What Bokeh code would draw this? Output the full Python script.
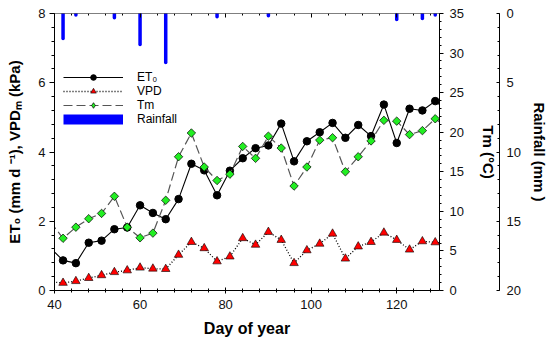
import numpy as np
from bokeh.plotting import figure
from bokeh.models import (LinearAxis, Range1d, SingleIntervalTicker, FixedTicker,
                          Legend, LegendItem)
from bokeh.embed import file_html
from bokeh.resources import INLINE

# ---- data ----
days = [39, 42, 45, 48, 51, 54, 57, 60, 63, 66, 69, 72, 75, 78, 81, 84,
        87, 90, 93, 96, 99, 102, 105, 108, 111, 114, 117, 120, 123, 126, 129, 132]
et0 = [1.23, 0.87, 0.79, 1.38, 1.44, 1.77, 1.82, 2.46, 2.24, 2.06, 2.64, 3.66,
       3.47, 2.75, 3.46, 3.82, 4.11, 4.19, 4.82, 3.73, 4.31, 4.57, 4.84, 4.41,
       4.78, 4.46, 5.37, 4.26, 5.25, 5.20, 5.47, 5.16]
vpd = [0.25, 0.22, 0.27, 0.36, 0.44, 0.53, 0.58, 0.66, 0.63, 0.62, 1.03, 1.40,
       1.22, 0.84, 0.98, 1.51, 1.32, 1.69, 1.46, 0.79, 1.16, 1.35, 1.64, 0.92,
       1.27, 1.40, 1.67, 1.46, 1.18, 1.42, 1.39, 1.35]
tm = [8.7, 6.6, 8.0, 9.07, 9.74, 11.9, 8.0, 6.66, 7.25, 11.4, 16.9, 19.9,
      15.6, 13.9, 14.7, 18.2, 16.7, 19.5, 18.0, 13.2, 15.6, 19.0, 19.3, 15.0,
      16.9, 18.9, 21.5, 21.4, 19.7, 20.2, 21.7, 20.5]
rain_days = [42, 45, 54, 60, 66, 78, 90, 120, 126, 129]
rain_mm = [1.8, 0.1, 0.31, 2.24, 3.54, 0.24, 0.17, 0.43, 0.36, 0.1]

x_title = "Day of year"
y_title = "ET\u2080 (mm d \u207b\u00b9), VPD\u2098 (kPa)"
tm_title = "Tm (\u00b0C)"
rain_title = "Rainfall (mm )"

FONT = "Liberation Sans"
TICK_SIZE = "13px"
TITLE_SIZE = "15px"

p = figure(width=550, height=350, x_range=Range1d(40, 130), y_range=Range1d(0, 8),
           output_backend="svg", toolbar_location=None,
           min_border_left=54, min_border_top=13, min_border_bottom=60,
           min_border_right=110)
p.outline_line_color = None
p.xgrid.visible = False
p.ygrid.visible = False
p.background_fill_color = "white"

p.extra_y_ranges = {"tm": Range1d(0, 35), "rain": Range1d(20, 0)}

def style_axis(ax):
    ax.axis_line_color = "black"
    ax.major_tick_line_color = "black"
    ax.minor_tick_line_color = "black"
    ax.major_label_text_font = FONT
    ax.major_label_text_font_size = TICK_SIZE
    ax.major_label_text_color = "#111111"
    ax.axis_label_text_font = FONT
    ax.axis_label_text_font_size = TITLE_SIZE
    ax.axis_label_text_font_style = "bold"
    ax.axis_label_text_color = "black"

# bottom axis
xa = p.xaxis[0]
style_axis(xa)
xa.ticker = SingleIntervalTicker(interval=20, num_minor_ticks=5)
xa.major_tick_in = 3
xa.major_tick_out = 3
xa.minor_tick_in = 2
xa.minor_tick_out = 2
xa.major_label_standoff = 6
xa.axis_label = x_title
xa.axis_label_text_font_size = "16px"
xa.axis_label_standoff = 8

# left axis
ya = p.yaxis[0]
style_axis(ya)
ya.ticker = SingleIntervalTicker(interval=2, num_minor_ticks=5)
ya.major_tick_in = 0
ya.major_tick_out = 5
ya.minor_tick_in = 0
ya.minor_tick_out = 3
ya.major_label_standoff = 4
ya.axis_label = y_title
ya.axis_label_standoff = 12

# top frame edge: ticks only, pinned to the top of the frame
top = LinearAxis(ticker=SingleIntervalTicker(interval=20, num_minor_ticks=5),
                 fixed_location=8)
style_axis(top)
top.major_tick_in = 4
top.major_tick_out = 0
top.minor_tick_in = 2
top.minor_tick_out = 0
top.major_label_text_color = None
p.add_layout(top, "above")

# right Tm axis
tax = LinearAxis(y_range_name="tm", ticker=SingleIntervalTicker(interval=5, num_minor_ticks=5))
style_axis(tax)
tax.major_tick_in = 0
tax.major_tick_out = 4
tax.minor_tick_in = 0
tax.minor_tick_out = 2
tax.major_label_standoff = 6
tax.axis_label = tm_title
tax.axis_label_standoff = 13
p.add_layout(tax, "right")

# spacer between the two right axes
spacer = LinearAxis(y_range_name="tm", ticker=FixedTicker(ticks=[]))
spacer.axis_line_color = None
spacer.major_tick_line_color = None
spacer.minor_tick_line_color = None
spacer.major_tick_in = 0
spacer.major_tick_out = 20
spacer.major_label_standoff = 0
p.add_layout(spacer, "right")

# right Rainfall axis (reversed)
rax = LinearAxis(y_range_name="rain", ticker=SingleIntervalTicker(interval=5, num_minor_ticks=5))
style_axis(rax)
rax.major_tick_in = 3
rax.major_tick_out = 0
rax.minor_tick_in = 2
rax.minor_tick_out = 0
rax.major_label_standoff = 7
rax.axis_label = rain_title
rax.axis_label_standoff = 7
p.add_layout(rax, "right")

# ---- glyphs ----
BLUE = "#0000FF"
GREEN = "#22EE22"
p.segment(x0=rain_days, y0=0, x1=rain_days, y1=rain_mm, y_range_name="rain",
          line_color=BLUE, line_width=3.5, line_cap="round")

vpd_line = p.line(days, vpd, line_color="black", line_width=1.3, line_dash="1 2")
vpd_pts = p.scatter(days[1:-1], vpd[1:-1], marker="triangle", size=8.5,
                    fill_color="#FF0000", line_color="black", line_width=0.6)

et_line = p.line(days, et0, line_color="black", line_width=1.1)
et_pts = p.scatter(days[1:-1], et0[1:-1], marker="circle", size=7.5,
                   fill_color="black", line_color="black")

tm_line = p.line(days, tm, y_range_name="tm", line_color="#555555", line_width=1.2,
                 line_dash="9 4")
tm_pts = p.scatter(days[1:-1], tm[1:-1], y_range_name="tm", marker="square",
                   angle=np.pi / 4, size=6, fill_color=GREEN,
                   line_color="black", line_width=0.7)

# legend-only proxies (no visible data)
tm_leg = p.scatter(x=[np.nan], y=[np.nan], marker="diamond", size=10,
                   fill_color=GREEN, line_color="black", line_width=0.7)
rain_leg = p.line(x=[np.nan], y=[np.nan], line_color=BLUE, line_width=10)

legend = Legend(items=[
    LegendItem(label="ET\u2080", renderers=[et_line, et_pts]),
    LegendItem(label="VPD", renderers=[vpd_line, vpd_pts]),
    LegendItem(label="Tm", renderers=[tm_line, tm_leg]),
    LegendItem(label="Rainfall", renderers=[rain_leg]),
], location=(9, 164), orientation="vertical", padding=0, spacing=0, margin=0,
    glyph_width=60, glyph_height=14, label_height=14, label_standoff=14,
    border_line_color=None, background_fill_alpha=0,
    label_text_font=FONT, label_text_font_size="12px", label_text_color="black")
p.add_layout(legend)

open("out.html", "w").write(file_html(p, INLINE))
